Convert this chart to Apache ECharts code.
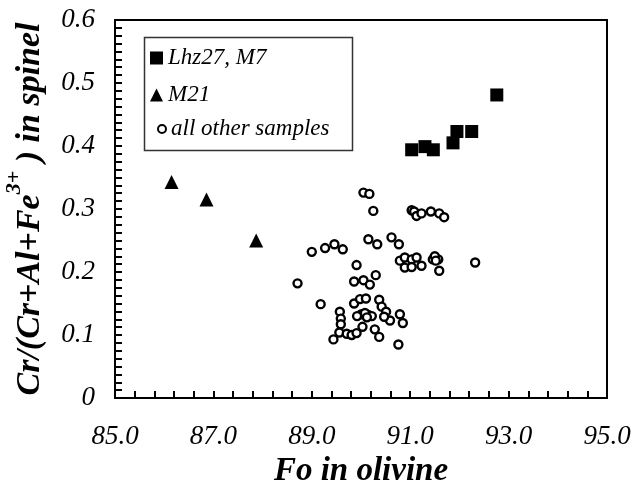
<!DOCTYPE html>
<html>
<head>
<meta charset="utf-8">
<script src="https://cdn.jsdelivr.net/npm/echarts@6/dist/echarts.min.js"></script>
<style>
  html, body { margin: 0; padding: 0; background: #fff; }
  #chart { width: 639px; height: 487px; }
</style>
</head>
<body>
<div id="chart"></div>
<script>
// Fo in olivine vs Cr# in spinel
var lhzFo = [92.76, 91.95, 92.25, 91.87, 91.03, 91.30, 91.47];
var lhzCr = [0.481, 0.423, 0.423, 0.405, 0.394, 0.399, 0.394];

var m21Fo = [86.15, 86.86, 87.87];
var m21Cr = [0.343, 0.315, 0.250];

var otherFo = [90.05, 90.17, 90.25, 91.03, 91.08, 91.13, 91.23, 91.42, 91.59, 91.69,
               90.15, 90.33, 90.62, 90.77, 89.00, 89.27, 89.46, 89.63, 89.91, 90.79,
               90.89, 91.03, 91.13, 90.89, 91.03, 91.23, 91.46, 91.57, 91.59, 92.32,
               88.71, 89.86, 90.05, 90.18, 90.30, 89.18, 89.86, 89.98, 90.10, 90.37,
               90.01, 90.15, 90.22, 90.42, 90.51, 90.59, 90.79, 90.85, 89.57, 89.59,
               89.59, 89.56, 89.71, 89.81, 89.91, 90.03, 89.44, 90.28, 90.37, 90.76,
               89.92, 90.47, 91.50, 91.52, 90.08, 90.12];
var otherCr = [0.326, 0.324, 0.297, 0.298, 0.296, 0.289, 0.293, 0.296, 0.293, 0.287,
               0.252, 0.244, 0.255, 0.244, 0.232, 0.238, 0.244, 0.236, 0.211, 0.218,
               0.223, 0.220, 0.223, 0.207, 0.208, 0.210, 0.220, 0.220, 0.202, 0.215,
               0.182, 0.185, 0.187, 0.180, 0.195, 0.149, 0.150, 0.157, 0.158, 0.156,
               0.133, 0.132, 0.130, 0.145, 0.137, 0.123, 0.133, 0.119, 0.137, 0.126,
               0.117, 0.104, 0.102, 0.100, 0.103, 0.113, 0.093, 0.109, 0.097, 0.085,
               0.130, 0.129, 0.225, 0.218, 0.135, 0.128];

var xTicks = [85, 95, 2];      // min, max, interval
var yTicks = [0, 0.6, 0.1];

function pairs(xs, ys) {
    var out = [];
    for (var i = 0; i < xs.length; i++) out.push([xs[i], ys[i]]);
    return out;
}

var serif = 'Liberation Serif';
var chart = echarts.init(document.getElementById('chart'));

var option = {
    animation: false,
    backgroundColor: '#fff',
    grid: {
        left: 115, right: 32, top: 20, bottom: 89,
        outerBoundsMode: 'none',
        show: false
    },
    xAxis: [{
        type: 'value',
        min: xTicks[0], max: xTicks[1], interval: xTicks[2],
        name: 'Fo in olivine',
        nameLocation: 'middle',
        nameGap: 44,
        nameTextStyle: { fontFamily: serif, fontStyle: 'italic', fontWeight: 'bold', fontSize: 33, color: '#000' },
        axisLine: { show: true, onZero: false, lineStyle: { color: '#000', width: 2 } },
        axisTick: { show: true, inside: true, length: 7, lineStyle: { color: '#000', width: 2 } },
        minorTick: { show: true, splitNumber: 5, length: 7, lineStyle: { color: '#000', width: 2 } },
        axisLabel: {
            margin: 25,
            fontFamily: serif, fontStyle: 'italic', fontSize: 27, color: '#000',
            formatter: function (v) { return v.toFixed(1); }
        },
        splitLine: { show: false }
    }, {
        // top edge of the frame
        type: 'value', position: 'top',
        min: xTicks[0], max: xTicks[1],
        axisLine: { show: true, onZero: false, lineStyle: { color: '#000', width: 2 } },
        axisTick: { show: false }, axisLabel: { show: false }, splitLine: { show: false }
    }],
    yAxis: [{
        type: 'value',
        min: yTicks[0], max: yTicks[1], interval: yTicks[2],
        name: '{a|Cr/(Cr+Al+Fe}{s|3+}{a| ) in spinel}',
        nameLocation: 'middle',
        nameGap: 68,
        nameTextStyle: {
            rich: {
                a: { fontFamily: serif, fontStyle: 'italic', fontWeight: 'bold', fontSize: 34, color: '#000', lineHeight: 44, verticalAlign: 'bottom' },
                s: { fontFamily: serif, fontStyle: 'italic', fontWeight: 'bold', fontSize: 22, color: '#000', lineHeight: 44, verticalAlign: 'top' }
            }
        },
        axisLine: { show: true, onZero: false, lineStyle: { color: '#000', width: 2 } },
        axisTick: { show: true, inside: true, length: 7, lineStyle: { color: '#000', width: 2 } },
        minorTick: { show: true, splitNumber: 8, length: 7, lineStyle: { color: '#000', width: 2 } },
        axisLabel: {
            margin: 20,
            fontFamily: serif, fontStyle: 'italic', fontSize: 27, color: '#000'
        },
        splitLine: { show: false }
    }, {
        // right edge of the frame
        type: 'value', position: 'right',
        min: yTicks[0], max: yTicks[1],
        axisLine: { show: true, onZero: false, lineStyle: { color: '#000', width: 2 } },
        axisTick: { show: false }, axisLabel: { show: false }, splitLine: { show: false }
    }],
    legend: [{
        data: ['Lhz27, M7', 'M21'],
        orient: 'vertical',
        left: 150, top: 46,
        padding: 0,
        itemWidth: 13, itemHeight: 13, itemGap: 13,
        textStyle: { fontFamily: serif, fontStyle: 'italic', fontSize: 23, color: '#000', lineHeight: 24 }
    }, {
        data: ['all other samples'],
        orient: 'vertical',
        left: 157, top: 117,
        padding: 0,
        itemWidth: 8, itemHeight: 8,
        textStyle: { fontFamily: serif, fontStyle: 'italic', fontSize: 23, color: '#000', lineHeight: 24 }
    }],
    graphic: [{
        type: 'rect',
        left: 142, top: 35,
        shape: { width: 208, height: 113 },
        style: { fill: null, stroke: '#333', lineWidth: 1.5 }
    }],
    series: [{
        name: 'all other samples',
        type: 'scatter',
        symbol: 'circle',
        symbolSize: 8,
        itemStyle: { color: '#fff', borderColor: '#000', borderWidth: 2.4, opacity: 1 },
        data: pairs(otherFo, otherCr)
    }, {
        name: 'M21',
        type: 'scatter',
        symbol: 'triangle',
        symbolSize: 14,
        itemStyle: { color: '#000', opacity: 1 },
        data: pairs(m21Fo, m21Cr)
    }, {
        name: 'Lhz27, M7',
        type: 'scatter',
        symbol: 'rect',
        symbolSize: 13,
        itemStyle: { color: '#000', opacity: 1 },
        data: pairs(lhzFo, lhzCr)
    }]
};

chart.setOption(option);
</script>
</body>
</html>
